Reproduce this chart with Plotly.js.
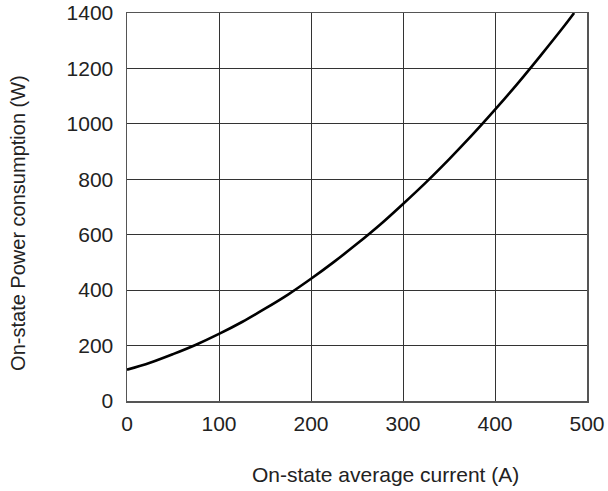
<!DOCTYPE html>
<html>
<head>
<meta charset="utf-8">
<script src="https://cdn.plot.ly/plotly-3.0.1.min.js"></script>
<style>html,body{margin:0;padding:0;background:#fff;}#chart{width:608px;height:491px;}</style>
</head>
<body>
<div id="chart"></div>
<script>
// On-state average current (A)
var current = [0, 25, 50, 75, 100, 125, 150, 175, 200, 225, 250, 275, 300, 325, 350, 375, 400, 425, 450, 475, 486];
// On-state power consumption (W)
var power = [113, 138, 169, 203, 242, 285, 333, 384, 441, 502, 567, 636, 711, 789, 872, 959, 1051, 1147, 1248, 1352, 1400];
var xTicks = [0, 100, 200, 300, 400, 500];
var yTicks = [0, 200, 400, 600, 800, 1000, 1200, 1400];

var trace = {
  x: current, y: power, type: 'scatter', mode: 'lines',
  line: {color: '#000', width: 2.6, shape: 'spline'},
  hoverinfo: 'skip', showlegend: false, cliponaxis: true
};

var layout = {
  width: 608, height: 491,
  margin: {l: 127, r: 21, t: 13, b: 90},
  paper_bgcolor: '#fff', plot_bgcolor: '#fff',
  font: {family: 'Liberation Sans, Arial, sans-serif', color: '#222'},
  xaxis: {
    range: [0, 500], tickvals: xTicks, ticktext: xTicks.map(String),
    showgrid: true, gridcolor: '#333', gridwidth: 1,
    showline: true, linecolor: '#555', linewidth: 1.5, mirror: true,
    zeroline: false, ticks: '', ticklabelstandoff: 3,
    tickfont: {size: 21, color: '#222'}, fixedrange: true
  },
  yaxis: {
    range: [0, 1400], tickvals: yTicks, ticktext: yTicks.map(String),
    showgrid: true, gridcolor: '#333', gridwidth: 1,
    showline: true, linecolor: '#555', linewidth: 1.5, mirror: true,
    zeroline: false, ticks: '', ticklabelstandoff: 8,
    tickfont: {size: 21, color: '#222'}, fixedrange: true
  },
  annotations: [{
    text: 'On-state average current (A)', xref: 'paper', yref: 'paper',
    x: 0.563, y: -0.189, xanchor: 'center', yanchor: 'middle', showarrow: false,
    font: {size: 21, color: '#222'}
  }, {
    text: 'On-state Power consumption (W)', xref: 'paper', yref: 'paper',
    x: -0.237, y: 0.459, xanchor: 'center', yanchor: 'middle', showarrow: false,
    textangle: -90, font: {size: 20, color: '#222'}
  }]
};

Plotly.newPlot('chart', [trace], layout, {displayModeBar: false, staticPlot: true});
</script>
</body>
</html>
